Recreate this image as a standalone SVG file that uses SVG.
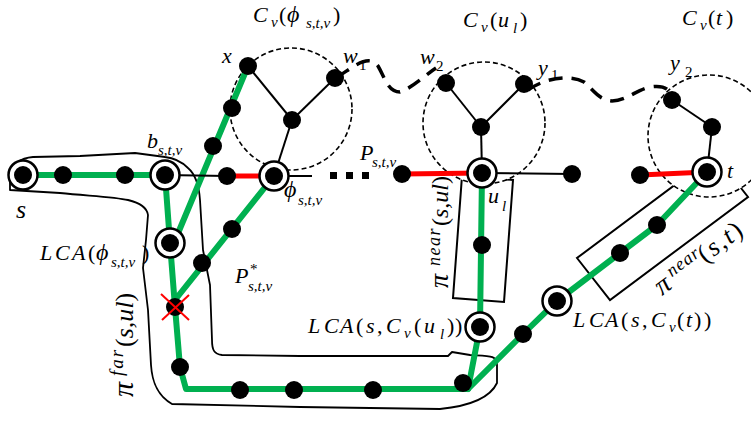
<svg xmlns="http://www.w3.org/2000/svg" width="751" height="425" viewBox="0 0 751 425">
<style>
.bg{fill:#fff}
.blob{fill:none;stroke:#000;stroke-width:1.8;stroke-linejoin:round}
.rect{fill:none;stroke:#000;stroke-width:2}
.cl{fill:#fff;stroke:#000;stroke-width:1.6;stroke-dasharray:5 3}
.g{fill:none;stroke:#00b050;stroke-width:6;stroke-linejoin:round;stroke-linecap:round}
.r{fill:none;stroke:#ff0000;stroke-width:5}
.k{fill:none;stroke:#000;stroke-width:2}
.d{fill:none;stroke:#000;stroke-width:3.5;stroke-dasharray:14 9}
.x{stroke:#ff0000;stroke-width:2}
.dot{fill:#000}
.ring{fill:#fff;stroke:#000;stroke-width:2.5}
.lab text{font-family:"Liberation Serif",serif;font-style:italic;font-size:22px;fill:#000}
.sub{font-size:15px}
.n{font-style:normal}
.ph{font-size:24px}
</style>
<rect class="bg" x="0" y="0" width="751" height="425"/>

<g id="outline">
<path class="blob" d="M 10,190 L 60,193 C 90,196 115,197 128,200 C 140,203 147,207 148,215 L 146,240 L 143,268 L 148,310 L 151,365 C 152,380 156,395 172,404 L 300,407 L 440,409 C 470,406 490,398 497,383 L 497,365 C 497,355 490,356 470,355 L 452,352 L 448,356 L 300,356 L 222,355 C 214,354 212,350 212,340 L 210,285 L 203,250 L 200,200 C 199,185 195,174 188,168 C 182,162 175,158 165,157 L 135,153 L 80,156 L 33,157 C 20,158 12,165 10,175 Z"/>
</g>

<g id="boxes">
<polygon class="rect" points="462,176 513,180 504,302 453,298"/>
<polygon class="rect" points="577,258 610,300 748,197 715,155"/>
</g>

<g id="clusters">
<circle class="cl" cx="291" cy="109" r="61"/>
<circle class="cl" cx="484" cy="123" r="61"/>
<circle class="cl" cx="709" cy="136" r="61"/>
</g>

<g id="connectors">
<polyline class="g" points="23,175 165,175"/>
<polyline class="g" points="165,175 170,243 175,307 180,367 186,389 468,389"/>
<line class="g" x1="248" y1="66" x2="176" y2="238"/>
<line class="g" x1="274" y1="176" x2="175" y2="300"/>
<polyline class="g" points="468,389 480,327 482,173"/>
<polyline class="g" points="468,389 523,334 557,301 620,253 657,225 707,172"/>
<line class="k" x1="165" y1="175" x2="227" y2="176"/>
<line class="k" x1="274" y1="176" x2="312" y2="176"/>
<line class="k" x1="482" y1="173" x2="572" y2="174"/>
<line class="k" x1="248" y1="66" x2="292" y2="120"/>
<line class="k" x1="335" y1="78" x2="292" y2="120"/>
<line class="k" x1="292" y1="120" x2="274" y2="176"/>
<line class="k" x1="446" y1="83" x2="481" y2="127"/>
<line class="k" x1="524" y1="84" x2="481" y2="127"/>
<line class="k" x1="481" y1="127" x2="482" y2="173"/>
<line class="k" x1="672" y1="100" x2="712" y2="127"/>
<line class="k" x1="712" y1="127" x2="707" y2="172"/>
<line class="r" x1="227" y1="176" x2="274" y2="176"/>
<line class="r" x1="402" y1="174" x2="482" y2="173"/>
<line class="r" x1="640" y1="175" x2="707" y2="172"/>
<path class="d" d="M 337,77 C 350,70 368,52 378,66 C 385,78 388,92 400,92 C 412,88 424,76 436,68"/>
<path class="d" d="M 528,90 C 545,78 570,74 584,82 C 592,88 598,100 612,101 C 626,101 636,90 650,87 C 662,85 668,88 671,94"/>
<rect class="dot" x="330" y="172" width="7" height="7"/>
<rect class="dot" x="346" y="172" width="7" height="7"/>
<rect class="dot" x="362" y="172" width="7" height="7"/>
</g>

<g id="nodes">
<g id="n-s"><circle class="ring" cx="23" cy="175" r="14.5"/><circle class="dot" cx="23" cy="175" r="9"/></g>
<g id="n-a1"><circle class="dot" cx="63" cy="175" r="9"/></g>
<g id="n-a2"><circle class="dot" cx="125" cy="175" r="9"/></g>
<g id="n-b"><circle class="ring" cx="165" cy="175" r="14.5"/><circle class="dot" cx="165" cy="175" r="9"/></g>
<g id="n-a3"><circle class="dot" cx="227" cy="176" r="9"/></g>
<g id="n-phi"><circle class="ring" cx="274" cy="176" r="14.5"/><circle class="dot" cx="274" cy="176" r="9"/></g>
<g id="n-a4"><circle class="dot" cx="402" cy="174" r="9"/></g>
<g id="n-ul"><circle class="ring" cx="482" cy="173" r="14.5"/><circle class="dot" cx="482" cy="173" r="9"/></g>
<g id="n-a5"><circle class="dot" cx="572" cy="174" r="9"/></g>
<g id="n-a6"><circle class="dot" cx="640" cy="175" r="9"/></g>
<g id="n-t"><circle class="ring" cx="707" cy="172" r="14.5"/><circle class="dot" cx="707" cy="172" r="9"/></g>
<g id="n-x"><circle class="dot" cx="248" cy="66" r="9"/></g>
<g id="n-w1"><circle class="dot" cx="335" cy="78" r="9"/></g>
<g id="n-c1"><circle class="dot" cx="292" cy="120" r="9"/></g>
<g id="n-w2"><circle class="dot" cx="446" cy="83" r="9"/></g>
<g id="n-y1"><circle class="dot" cx="524" cy="84" r="9"/></g>
<g id="n-c2"><circle class="dot" cx="481" cy="127" r="9"/></g>
<g id="n-y2"><circle class="dot" cx="672" cy="100" r="9"/></g>
<g id="n-c3"><circle class="dot" cx="712" cy="127" r="9"/></g>
<g id="n-p1"><circle class="dot" cx="232" cy="108" r="9"/></g>
<g id="n-p2"><circle class="dot" cx="213" cy="146" r="9"/></g>
<g id="n-lca1"><circle class="ring" cx="170" cy="243" r="14.5"/><circle class="dot" cx="170" cy="243" r="9"/></g>
<g id="n-q1"><circle class="dot" cx="232" cy="229" r="9"/></g>
<g id="n-q2"><circle class="dot" cx="202" cy="263" r="9"/></g>
<g id="n-xx"><circle class="dot" cx="175" cy="307" r="9"/><line class="x" x1="161" y1="294" x2="189" y2="320"/><line class="x" x1="162" y1="320" x2="189" y2="295"/></g>
<g id="n-f1"><circle class="dot" cx="180" cy="367" r="9"/></g>
<g id="n-f2"><circle class="dot" cx="240" cy="390" r="9"/></g>
<g id="n-f3"><circle class="dot" cx="294" cy="390" r="9"/></g>
<g id="n-f4"><circle class="dot" cx="373" cy="390" r="9"/></g>
<g id="n-f5"><circle class="dot" cx="463" cy="383" r="9"/></g>
<g id="n-u1"><circle class="dot" cx="482" cy="245" r="9"/></g>
<g id="n-lca2"><circle class="ring" cx="480" cy="327" r="14.5"/><circle class="dot" cx="480" cy="327" r="9"/></g>
<g id="n-d1"><circle class="dot" cx="523" cy="334" r="9"/></g>
<g id="n-lca3"><circle class="ring" cx="557" cy="301" r="14.5"/><circle class="dot" cx="557" cy="301" r="9"/></g>
<g id="n-d2"><circle class="dot" cx="620" cy="253" r="9"/></g>
<g id="n-d3"><circle class="dot" cx="657" cy="225" r="9"/></g>
</g>

<g id="labels" class="lab">
<text y="22"><tspan x="253">C</tspan><tspan class="sub" x="271" y="27">v</tspan><tspan class="n" x="279" y="22">(</tspan><tspan class="ph" x="287">ϕ</tspan><tspan class="sub" x="306" y="28">s,t,v</tspan><tspan class="n" x="333" y="22">)</tspan></text>
<text y="27"><tspan x="463">C</tspan><tspan class="sub" x="481" y="32">v</tspan><tspan class="n" x="490" y="27">(</tspan><tspan x="498">u</tspan><tspan class="sub" x="513" y="33">l</tspan><tspan class="n" x="520" y="27">)</tspan></text>
<text y="25"><tspan x="682">C</tspan><tspan class="sub" x="700" y="30">v</tspan><tspan class="n" x="708" y="25">(</tspan><tspan x="716">t</tspan><tspan class="n" x="726">)</tspan></text>
<text x="222" y="63">x</text>
<text y="63"><tspan x="343">w</tspan><tspan class="sub n" x="359" y="70">1</tspan></text>
<text y="64"><tspan x="420">w</tspan><tspan class="sub n" x="436" y="71">2</tspan></text>
<text y="75"><tspan x="538">y</tspan><tspan class="sub n" x="551" y="80">1</tspan></text>
<text y="70"><tspan x="670">y</tspan><tspan class="sub n" x="685" y="77">2</tspan></text>
<text y="148"><tspan x="147">b</tspan><tspan class="sub" x="158" y="155">s,t,v</tspan></text>
<text y="160"><tspan x="360">P</tspan><tspan class="sub" x="372" y="167">s,t,v</tspan></text>
<text y="197"><tspan class="ph" x="284">ϕ</tspan><tspan class="sub" x="298" y="205">s,t,v</tspan></text>
<text x="16" y="218" style="font-size:26px">s</text>
<text y="260"><tspan x="40">L</tspan><tspan x="55">C</tspan><tspan x="72">A</tspan><tspan class="n" x="88">(</tspan><tspan class="ph" x="96">ϕ</tspan><tspan class="sub" x="111" y="267">s,t,v</tspan><tspan class="n" x="142" y="260">)</tspan></text>
<text y="283"><tspan x="235">P</tspan><tspan class="sub n" x="250" y="274">*</tspan><tspan class="sub" x="248" y="291">s,t,v</tspan></text>
<text y="333"><tspan x="308">L</tspan><tspan x="324">C</tspan><tspan x="340">A</tspan><tspan class="n" x="356">(</tspan><tspan x="366">s</tspan><tspan class="n" x="377">,</tspan><tspan x="386">C</tspan><tspan class="sub" x="404" y="338">v</tspan><tspan class="n" x="414" y="333">(</tspan><tspan x="424">u</tspan><tspan class="sub" x="440" y="339">l</tspan><tspan class="n" x="447" y="333">)</tspan><tspan class="n" x="455">)</tspan></text>
<text y="327"><tspan x="573">L</tspan><tspan x="589">C</tspan><tspan x="605">A</tspan><tspan class="n" x="621">(</tspan><tspan x="631">s</tspan><tspan class="n" x="642">,</tspan><tspan x="651">C</tspan><tspan class="sub" x="669" y="332">v</tspan><tspan class="n" x="677" y="327">(</tspan><tspan x="686">t</tspan><tspan class="n" x="694">)</tspan><tspan class="n" x="704">)</tspan></text>
<text x="727" y="178">t</text>
<text y="203"><tspan x="488">u</tspan><tspan class="sub" x="502" y="211">l</tspan></text>
<text transform="translate(133,397) rotate(-90)" y="0"><tspan x="0" style="font-size:30px">π</tspan><tspan x="21" y="-10" style="font-size:19px;letter-spacing:2px">far</tspan><tspan x="50" y="0" style="font-size:26px"><tspan class="n">(</tspan>s,ul<tspan class="n">)</tspan></tspan></text>
<text transform="translate(448,288) rotate(-90)" y="0"><tspan x="0" style="font-size:28px">π</tspan><tspan x="22" y="-8" style="font-size:18px;letter-spacing:1.5px">near</tspan><tspan x="62" y="0" style="font-size:24px"><tspan class="n">(</tspan>s,ul<tspan class="n">)</tspan></tspan></text>
<text transform="translate(662,296) rotate(-37)" y="0"><tspan x="0" style="font-size:28px">π</tspan><tspan x="19" y="-9" style="font-size:18px;letter-spacing:1px">near</tspan><tspan x="54" y="0" style="font-size:26px;letter-spacing:2px"><tspan class="n">(</tspan>s,t<tspan class="n">)</tspan></tspan></text>
</g>
</svg>
